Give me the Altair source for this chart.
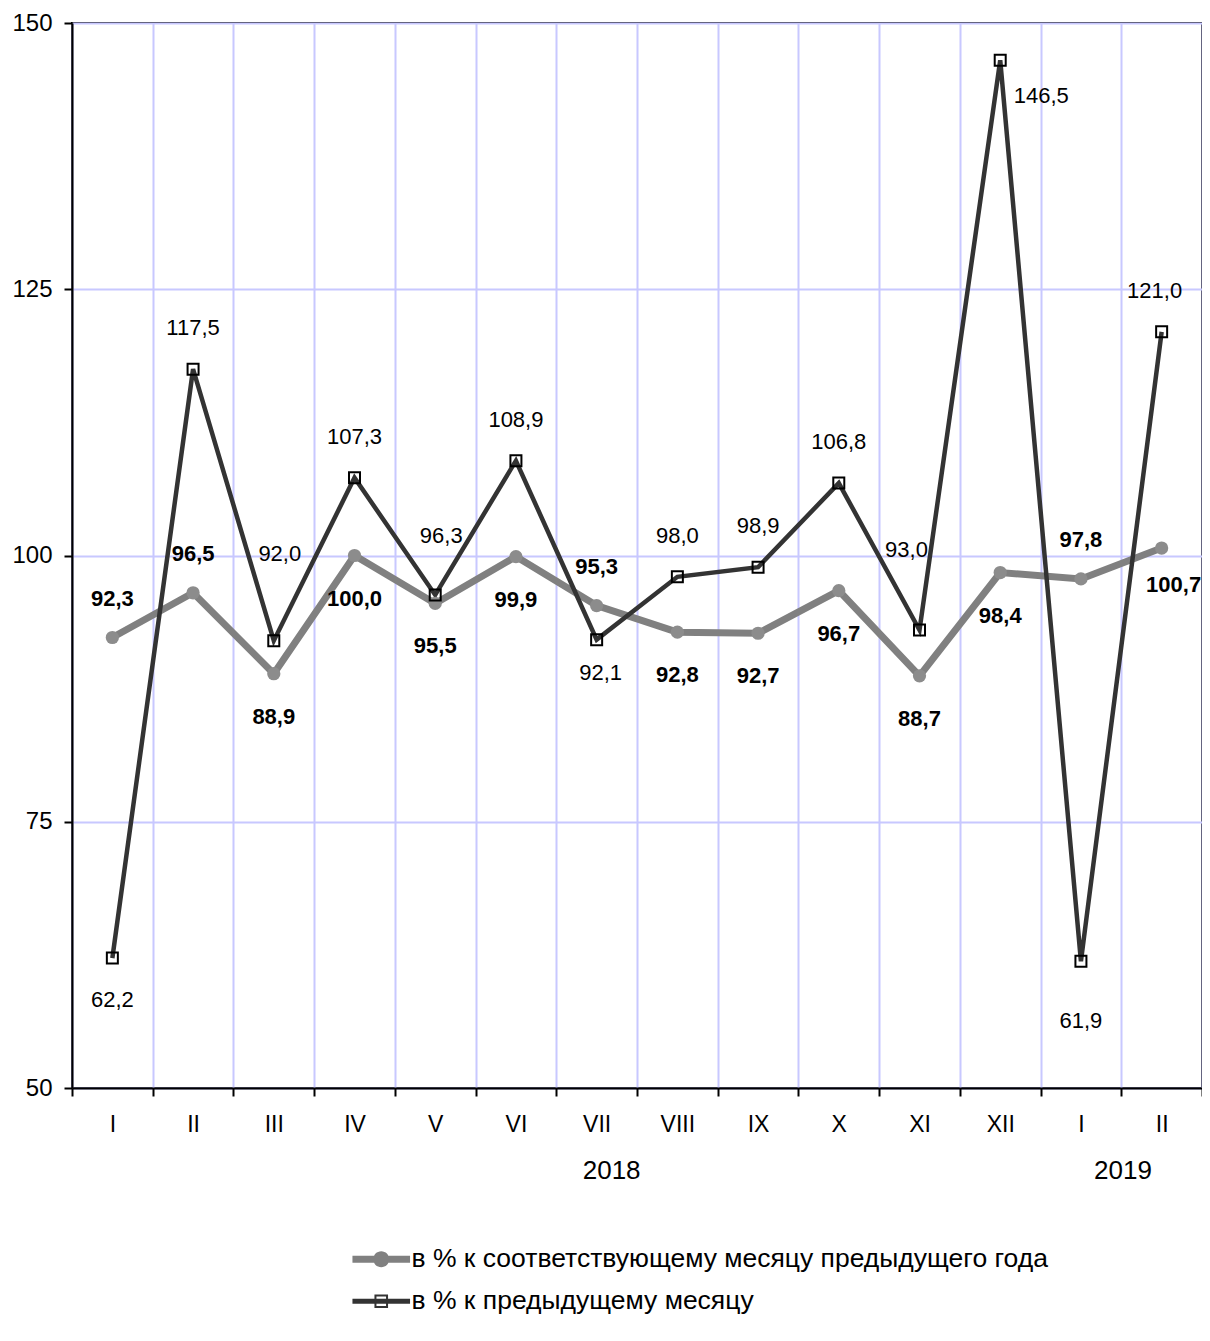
import altair as alt
import pandas as pd

# ---------------- data ----------------
months = ["I", "II", "III", "IV", "V", "VI", "VII", "VIII", "IX", "X", "XI", "XII", "I", "II"]
yoy = [92.3, 96.5, 88.9, 100.0, 95.5, 99.9, 95.3, 92.8, 92.7, 96.7, 88.7, 98.4, 97.8, 100.7]
mom = [62.2, 117.5, 92.0, 107.3, 96.3, 108.9, 92.1, 98.0, 98.9, 106.8, 93.0, 146.5, 61.9, 121.0]
years = ["2018", "2019"]
year_at = [6, 12]
series_names = ["в % к соответствующему месяцу предыдущего года", "в % к предыдущему месяцу"]

# label placement (which side of the point each value label sits)
yoy_place = ["above", "above", "below", "below", "below", "below", "above",
             "below", "below", "below", "below", "below", "above", "below_right"]
mom_place = ["below", "above", "far_above", "above", "upper", "above", "below_near",
             "above", "above", "above", "above_left", "right", "far_below", "above_l"]

# ---------------- styles ----------------
FONT = "Liberation Sans, Arial, sans-serif"
GRID = "#c8c8ff"
GRAY = "#808080"
GRAY_PT = "#8c8c8c"
DARK = "#333333"

yoy_offsets = {"above": (0, -39), "below": (0, 43), "below_right": (12, 37)}
mom_offsets = {"above": (0, -41), "above_l": (-7, -41), "below": (0, 42), "below_near": (4, 33),
               "far_above": (6, -87), "upper": (6, -59), "above_left": (-13, -80),
               "right": (41, 36), "far_below": (0, 60)}


def fmt(v):
    return f"{v:.1f}".replace(".", ",")


df = pd.DataFrame({
    "idx": list(range(len(months))),
    "yoy": yoy,
    "mom": mom,
    "yoy_lbl": [fmt(v) for v in yoy],
    "mom_lbl": [fmt(v) for v in mom],
    "yoy_place": yoy_place,
    "mom_place": mom_place,
})

x_scale = alt.Scale(type="band", paddingInner=0, paddingOuter=0)
label_expr = "[" + ",".join(f"'{m}'" for m in months) + "][datum.value]"
x_axis = alt.Axis(title=None, labelExpr=label_expr, labelAngle=0, tickBand="extent",
                  grid=True, gridColor=GRID, gridWidth=2, domainColor="black", domainWidth=2,
                  tickColor="black", tickWidth=2, tickSize=8, labelFontSize=23,
                  labelPadding=17, labelFont=FONT, labelColor="black", orient="bottom")
X = alt.X("idx:O", scale=x_scale, axis=x_axis)

y_scale = alt.Scale(domain=[50, 150], nice=False, zero=False)
y_axis = alt.Axis(title=None, values=[50, 75, 100, 125, 150], grid=True, gridColor=GRID,
                  gridWidth=2, domainColor="black", domainWidth=2, tickColor="black",
                  tickWidth=2, tickSize=8, labelFontSize=24, labelPadding=12,
                  labelFont=FONT, labelColor="black")

base = alt.Chart(df)

gray_line = base.mark_line(color=GRAY, strokeWidth=7).encode(
    x=X, y=alt.Y("yoy:Q", scale=y_scale, axis=y_axis))
dark_line = base.mark_line(color=DARK, strokeWidth=4.5).encode(
    x=X, y=alt.Y("mom:Q", scale=y_scale, axis=y_axis))
gray_pts = base.mark_circle(color=GRAY_PT, size=175, opacity=1).encode(
    x=X, y=alt.Y("yoy:Q", scale=y_scale, axis=y_axis))
dark_pts = base.mark_point(shape="square", filled=False, color="black", strokeWidth=2,
                           size=121, opacity=1).encode(
    x=X, y=alt.Y("mom:Q", scale=y_scale, axis=y_axis))

layers = [gray_line, dark_line, gray_pts, dark_pts]

for place, (dx, dy) in yoy_offsets.items():
    layers.append(
        base.transform_filter(alt.datum.yoy_place == place)
        .mark_text(dx=dx, dy=dy, fontSize=22, fontWeight="bold", font=FONT, color="black")
        .encode(x=X, y=alt.Y("yoy:Q", scale=y_scale, axis=y_axis), text="yoy_lbl:N"))

for place, (dx, dy) in mom_offsets.items():
    layers.append(
        base.transform_filter(alt.datum.mom_place == place)
        .mark_text(dx=dx, dy=dy, fontSize=22, font=FONT, color="black")
        .encode(x=X, y=alt.Y("mom:Q", scale=y_scale, axis=y_axis), text="mom_lbl:N"))

# legend (line + marker symbols as custom paths)
PATH_GRAY = ("M-3.6,-0.45H3.6V0.45H-3.6Z "
             "M1,0A1,1 0 1,1 -1,0A1,1 0 1,1 1,0Z")
PATH_DARK = ("M-3.6,-0.3H3.6V0.3H-3.6Z "
             "M-0.85,-0.85H0.85V0.85H-0.85Z M-0.6,-0.6V0.6H0.6V-0.6Z")
LEG = alt.Legend(title=None, orient="none", legendX=296, legendY=1223, symbolSize=256,
                 symbolStrokeWidth=0, symbolOpacity=1, labelFontSize=26.5, labelFont=FONT,
                 labelColor="black", labelOffset=17, rowPadding=15, padding=0,
                 labelLimit=0, direction="vertical")
legend_df = pd.DataFrame({"series": series_names, "idx": [0, 0], "v": [None, None]})
legend_layer = alt.Chart(legend_df).mark_point(filled=True, opacity=1, invalid="filter").encode(
    x=X,
    y=alt.Y("v:Q", scale=y_scale, axis=y_axis),
    shape=alt.Shape("series:N", scale=alt.Scale(domain=series_names, range=[PATH_GRAY, PATH_DARK]),
                    legend=LEG),
    fill=alt.Fill("series:N", scale=alt.Scale(domain=series_names, range=[GRAY, DARK]),
                  legend=LEG),
)
layers.append(legend_layer)

main = alt.layer(*layers)

# year captions as a second x axis
year_expr = "".join(f"datum.value == {i} ? '{y}' : " for i, y in zip(year_at, years)) + "''"
year_axis = alt.Axis(title=None, orient="bottom", labelExpr=year_expr, ticks=False, tickSize=0,
                     domain=False, grid=False, labelAngle=0, labelFontSize=26, labelPadding=69,
                     labelFont=FONT, labelColor="black",
                     labelOffset={"condition": {"test": f"datum.value == {year_at[1]}", "value": 42},
                                  "value": 15})
year_layer = base.mark_text(text="").encode(x=alt.X("idx:O", scale=x_scale, axis=year_axis))

chart = alt.layer(main, year_layer).resolve_axis(x="independent").properties(
    width=1130, height=1065,
    autosize=alt.AutoSizeParams(type="none"),
    padding={"left": 64, "top": 15, "right": 0, "bottom": 236},
).configure_view(stroke="black", strokeWidth=2)

chart.save("out.html", embed_options={"renderer": "svg", "actions": False})
